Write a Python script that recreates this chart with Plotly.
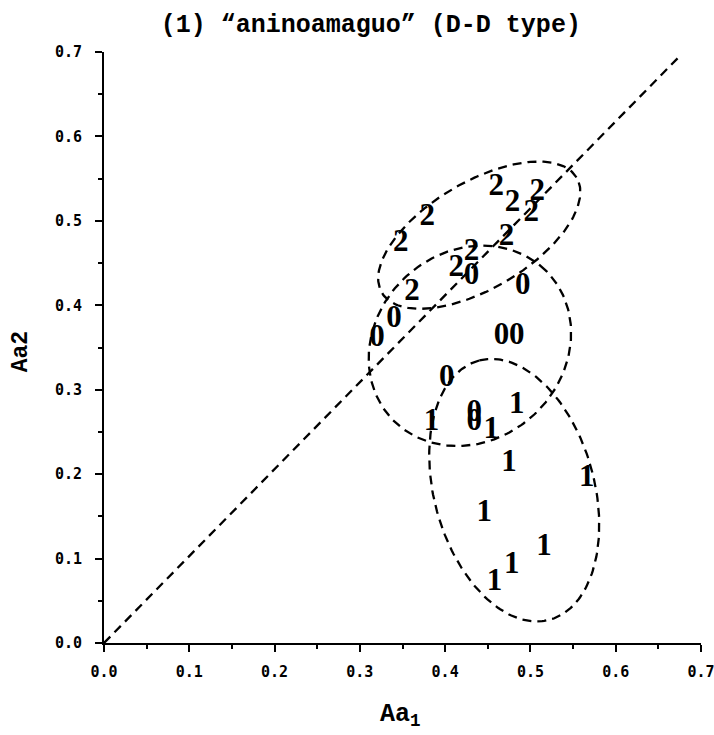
import numpy as np
import plotly.graph_objects as go

# ---- text ----
title_text = "(1) “aninoamaguo” (D-D type)"
x_title = "Aa<sub>1</sub>"
y_title = "Aa2"

# ---- ticks ----
tick_vals = [0.0, 0.1, 0.2, 0.3, 0.4, 0.5, 0.6, 0.7]
tick_text = ["0.0", "0.1", "0.2", "0.3", "0.4", "0.5", "0.6", "0.7"]

# ---- data: group "2" ----
g2_x = [0.460, 0.479, 0.508, 0.501, 0.379, 0.348, 0.472, 0.431, 0.413, 0.361]
g2_y = [0.540, 0.521, 0.534, 0.509, 0.504, 0.474, 0.481, 0.463, 0.444, 0.415]

# ---- data: group "0" ----
g0_x = [0.431, 0.491, 0.340, 0.320, 0.466, 0.484, 0.402, 0.434, 0.434]
g0_y = [0.434, 0.422, 0.383, 0.361, 0.363, 0.363, 0.314, 0.272, 0.262]

# ---- data: group "1" ----
g1_x = [0.384, 0.484, 0.454, 0.475, 0.566, 0.446, 0.516, 0.478, 0.458]
g1_y = [0.262, 0.282, 0.252, 0.213, 0.195, 0.154, 0.114, 0.092, 0.072]

# ---- diagonal reference line ----
diag_x = [0.0, 0.673]
diag_y = [0.0, 0.693]

# ---- group ellipses (centre, semi-axes, tilt in degrees) ----
ell_cx = [0.440, 0.429, 0.481]
ell_cy = [0.483, 0.352, 0.181]
ell_a = [0.133, 0.126, 0.159]
ell_b = [0.063, 0.111, 0.094]
ell_deg = [31, 45, 105]

point_font = dict(family="Liberation Serif", size=31, color="black", weight="bold")
dash_style = "9px,6px"
tick_font = dict(family="DejaVu Sans Mono", size=15, color="black", weight="bold")

fig = go.Figure()

fig.add_trace(go.Scatter(x=diag_x, y=diag_y, mode="lines",
                         line=dict(color="black", width=2.3, dash=dash_style),
                         showlegend=False, hoverinfo="skip"))

t = np.linspace(0, 2 * np.pi, 240)
for cx, cy, a, b, deg in zip(ell_cx, ell_cy, ell_a, ell_b, ell_deg):
    th = np.deg2rad(deg)
    ex = cx + a * np.cos(t) * np.cos(th) - b * np.sin(t) * np.sin(th)
    ey = cy + a * np.cos(t) * np.sin(th) + b * np.sin(t) * np.cos(th)
    fig.add_trace(go.Scatter(x=ex, y=ey, mode="lines",
                             line=dict(color="black", width=2.3, dash=dash_style),
                             showlegend=False, hoverinfo="skip"))

for gx, gy, lab in [(g2_x, g2_y, "2"), (g0_x, g0_y, "0"), (g1_x, g1_y, "1")]:
    fig.add_trace(go.Scatter(x=gx, y=gy, mode="text", text=[lab] * len(gx),
                             textposition="middle center", textfont=point_font,
                             showlegend=False, cliponaxis=False))

axis_common = dict(
    range=[0, 0.7], showgrid=False, zeroline=False, automargin=False,
    showline=True, linecolor="black", linewidth=2,
    ticks="outside", ticklen=7, tickwidth=2, tickcolor="black",
    tickvals=tick_vals, ticktext=tick_text, ticklabeloverflow="allow",
    minor=dict(dtick=0.05, ticks="outside", ticklen=4, tickwidth=2, tickcolor="black"),
)

fig.update_layout(
    width=714, height=735,
    margin=dict(l=104, r=13, t=52, b=92),
    paper_bgcolor="white", plot_bgcolor="white",
    xaxis=dict(**axis_common, tickfont=tick_font, ticklabelstandoff=7),
    yaxis=dict(**axis_common, tickfont=tick_font, ticklabelstandoff=10),
    title=dict(text=title_text, x=0.447, xanchor="center", xref="paper",
               y=1 - 23 / 735, yanchor="middle", yref="container",
               font=dict(family="Liberation Mono", size=25, color="black", weight="bold")),
    annotations=[
        dict(text=x_title, xref="paper", yref="paper", x=0.497, y=-0.122,
             xanchor="center", yanchor="middle", showarrow=False,
             font=dict(family="Liberation Mono", size=25, color="black", weight="bold")),
        dict(text=y_title, xref="paper", yref="paper", x=-0.139, y=0.492,
             xanchor="center", yanchor="middle", showarrow=False, textangle=-90,
             font=dict(family="Liberation Mono", size=23, color="black", weight="bold")),
    ],
)

fig.write_html("out.html")
